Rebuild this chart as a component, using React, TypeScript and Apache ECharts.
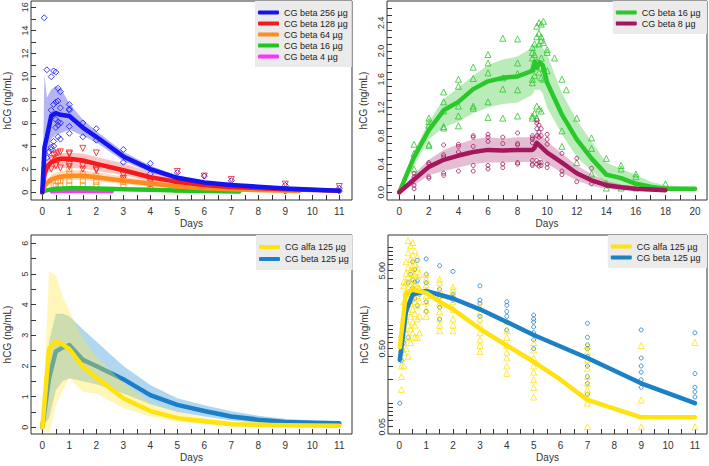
import { useEffect, useRef } from "react";
import * as echarts from "echarts";

// ---------- Panel 1 (top-left): CG beta dose groups ----------
const tA = [0, 0.08, 0.17, 0.33, 0.5, 0.67, 1, 1.5, 2, 3, 4, 5, 6, 7, 9, 11];
const b256Mid = [0, 3.9, 4.8, 6.6, 6.85, 6.7, 6.6, 5.6, 4.8, 3.1, 2.0, 1.25, 0.85, 0.62, 0.33, 0.13];
const b256Lo = [0, 0.5, 3.0, 4.6, 5.0, 5.1, 5.4, 4.9, 4.3, 2.7, 1.7, 1.05, 0.7, 0.5, 0.25, 0.08];
const b256Hi = [0, 10.2, 8.2, 8.9, 9.2, 9.0, 7.7, 6.3, 5.3, 3.5, 2.3, 1.45, 1.0, 0.75, 0.42, 0.2];
const b128Mid = [0, 1.5, 2.2, 2.6, 2.8, 2.9, 2.9, 2.75, 2.45, 1.9, 1.3, 0.9, 0.62, 0.45, 0.25, 0.14];
const b128Lo = [0, 1.0, 1.6, 1.9, 2.0, 2.1, 2.1, 2.05, 1.85, 1.5, 0.95, 0.7, 0.45, 0.32, 0.15, 0.08];
const b128Hi = [0, 2.0, 2.8, 3.2, 3.35, 3.4, 3.4, 3.35, 3.05, 2.5, 1.75, 1.15, 0.8, 0.6, 0.35, 0.2];
const tOr = [0, 0.08, 0.17, 0.33, 0.5, 0.67, 1, 1.5, 2, 3, 4, 5, 6, 7, 9.5];
const b64Mid = [0, 0.5, 0.8, 1.1, 1.25, 1.35, 1.42, 1.42, 1.3, 1.0, 0.75, 0.5, 0.35, 0.25, 0.1];
const b64Lo = [0, 0.3, 0.55, 0.8, 0.9, 1.0, 1.05, 1.05, 0.95, 0.72, 0.52, 0.35, 0.24, 0.16, 0.05];
const b64Hi = [0, 0.7, 1.1, 1.5, 1.7, 1.8, 1.9, 1.9, 1.75, 1.35, 1.0, 0.7, 0.48, 0.35, 0.16];
const tGr = [0, 0.08, 0.33, 0.5, 1, 1.5, 2, 3, 4, 5, 6, 7.3];
const b16Mid = [0, 0.12, 0.25, 0.3, 0.35, 0.35, 0.33, 0.27, 0.22, 0.16, 0.1, 0.07];
const b16Lo = [0, 0.06, 0.18, 0.22, 0.27, 0.27, 0.25, 0.2, 0.16, 0.11, 0.06, 0.04];
const b16Hi = [0, 0.18, 0.32, 0.38, 0.43, 0.43, 0.41, 0.34, 0.28, 0.21, 0.14, 0.1];
const tMg = [0.33, 0.5, 1, 1.5, 2, 2.6];
const b4Mid = [0.03, 0.05, 0.06, 0.06, 0.05, 0.04];

const pts256 = [
  [0.07, 15.1], [0.17, 10.6], [0.33, 10.0], [0.42, 10.5], [0.5, 10.4], [0.58, 9.0], [0.67, 8.7],
  [0.5, 7.8], [0.58, 7.9], [0.33, 7.1], [0.42, 7.6], [0.67, 7.3], [0.5, 6.3], [0.58, 6.1], [0.67, 6.0],
  [0.5, 5.6], [0.58, 5.8], [0.42, 4.4], [0.58, 4.8], [0.67, 4.6], [0.33, 3.7], [0.25, 3.5], [0.17, 3.0],
  [0.17, 2.2], [0.42, 4.0], [0.33, 3.9], [1, 7.6], [1, 7.2], [1, 7.1], [1, 5.7], [1, 5.1], [1.5, 6.0],
  [1.5, 4.8], [2, 5.5], [2, 4.5], [3, 3.7], [3, 2.6], [4, 2.5], [4, 1.6], [5, 1.7], [5, 0.9], [6, 1.4],
  [6, 0.6], [7, 1.0], [7, 0.4], [9, 0.6], [9, 0.1], [11, 0.35], [11, 0.1],
];
const pts128 = [
  [0.33, 2.9], [0.5, 3.3], [0.58, 3.4], [0.67, 3.5], [0.42, 3.2], [0.5, 2.3], [0.58, 2.7], [0.67, 2.1],
  [0.33, 2.0], [1, 3.4], [1, 3.3], [1, 2.4], [1, 2.2], [1.5, 3.8], [1.5, 2.3], [1.5, 2.0], [2, 3.4],
  [2, 2.0], [2, 1.9], [3, 1.5], [3, 1.2], [4, 0.9], [4, 0.7], [5, 1.8], [5, 0.5], [6, 1.4], [6, 0.3],
  [7, 1.1], [7, 0.25], [9, 0.7], [11, 0.5],
];
const pts64 = [
  [0.42, 0.6], [0.5, 0.55], [0.58, 0.95], [0.67, 0.6], [0.67, 1.0], [1, 2.0], [1, 1.6], [1, 1.0], [1, 0.6],
  [1.5, 1.6], [1.5, 1.0], [1.5, 0.6], [2, 1.4], [2, 0.9], [2, 0.6], [3, 1.2], [3, 0.9], [3, 0.5],
  [4, 0.7], [4, 0.3], [5, 0.5], [5, 0.2], [6, 0.35], [7, 0.2],
];

// ---------- Panel 2 (top-right): CG beta 16 / 8 ----------
const tG2 = [0, 1, 2, 3, 4, 5, 6, 7, 8, 9, 9.15, 9.3, 9.5, 9.7, 10, 11, 12, 13, 14, 15, 16, 17, 18, 20];
const g16Mid = [0, 0.5, 0.88, 1.16, 1.28, 1.46, 1.57, 1.62, 1.64, 1.72, 1.85, 1.76, 1.84, 1.8, 1.55, 1.1, 0.75, 0.48, 0.25, 0.2, 0.12, 0.08, 0.05, 0.05];
const g16Hi = [0, 0.58, 1.0, 1.32, 1.48, 1.65, 1.8, 1.88, 1.92, 2.05, 2.1, 2.1, 2.1, 2.05, 1.95, 1.4, 1.02, 0.72, 0.42, 0.33, 0.25, 0.15, 0.1, 0.07];
const g16Lo = [0, 0.38, 0.75, 0.92, 1.0, 1.12, 1.2, 1.25, 1.27, 1.38, 1.45, 1.45, 1.45, 1.4, 1.2, 0.82, 0.5, 0.3, 0.12, 0.1, 0.05, 0.03, 0.02, 0.03];
const tM2 = [0, 1, 2, 3, 4, 5, 6, 7, 8, 9, 9.15, 9.3, 9.5, 10, 11, 12, 13, 14, 15, 16, 17, 18];
const m8Mid = [0, 0.18, 0.36, 0.46, 0.52, 0.57, 0.6, 0.59, 0.6, 0.6, 0.63, 0.7, 0.66, 0.56, 0.42, 0.27, 0.17, 0.1, 0.07, 0.05, 0.04, 0.03];
const m8Hi = [0, 0.26, 0.46, 0.6, 0.68, 0.75, 0.78, 0.76, 0.78, 0.78, 0.8, 0.85, 0.82, 0.72, 0.55, 0.38, 0.26, 0.16, 0.11, 0.08, 0.06, 0.05];
const m8Lo = [0, 0.1, 0.24, 0.3, 0.35, 0.4, 0.42, 0.42, 0.43, 0.43, 0.45, 0.5, 0.48, 0.4, 0.28, 0.17, 0.09, 0.05, 0.03, 0.02, 0.01, 0.01];
const ptsG16 = [
  [1, 0.68], [1, 0.55], [1, 0.33], [2, 1.05], [2, 1.0], [2, 0.95], [2, 0.68], [2, 0.66], [3, 1.42], [3, 1.28],
  [3, 1.15], [3, 0.93], [3, 0.91], [4, 1.6], [4, 1.5], [4, 1.22], [4, 1.08], [4, 0.94], [5, 1.77], [5, 1.61],
  [5, 1.22], [5, 1.19], [6, 1.95], [6, 1.83], [6, 1.69], [6, 1.28], [6, 1.06], [7, 2.18], [7, 1.62], [7, 1.46],
  [7, 1.05], [8, 2.17], [8, 1.83], [8, 1.68], [8, 1.45], [8, 1.08], [9, 2.05], [9, 1.98], [9, 1.9], [9, 1.75],
  [9, 1.6], [9, 1.55], [9, 1.08], [9, 1.05], [9.15, 2.1], [9.15, 1.95], [9.15, 1.65], [9.15, 1.12], [9.3, 2.35],
  [9.3, 2.2], [9.3, 1.85], [9.3, 1.22], [9.3, 1.05], [9.45, 2.4], [9.45, 2.25], [9.45, 2.1], [9.45, 1.7],
  [9.45, 1.18], [9.6, 2.38], [9.6, 2.2], [9.6, 2.15], [9.6, 1.9], [9.6, 1.62], [9.6, 1.15], [9.75, 2.42],
  [9.75, 2.12], [9.75, 1.75], [9.75, 1.6], [10, 2.02], [10, 1.98], [10, 1.72], [10.5, 1.9], [11, 1.6],
  [11, 0.87], [11, 0.65], [11.3, 1.45], [12, 1.05], [12, 0.42], [13, 0.77], [13, 0.62], [13, 0.26],
  [14, 0.48], [14, 0.13], [14, 0.06], [15, 0.38], [15, 0.33], [15, 0.06], [16, 0.26], [16, 0.22], [16, 0.06],
  [18, 0.12],
];
const ptsM8 = [
  [1, 0.27], [1, 0.22], [1, 0.1], [1, 0.05], [2, 0.42], [2, 0.4], [2, 0.22], [2, 0.2], [3, 0.67], [3, 0.53],
  [3, 0.5], [3, 0.27], [3, 0.24], [4, 0.68], [4, 0.65], [4, 0.57], [4, 0.3], [5, 0.8], [5, 0.78], [5, 0.65],
  [5, 0.38], [5, 0.3], [6, 0.82], [6, 0.78], [6, 0.72], [6, 0.38], [6, 0.33], [7, 0.78], [7, 0.69], [7, 0.4],
  [7, 0.35], [8, 0.84], [8, 0.69], [8, 0.67], [8, 0.42], [8, 0.4], [9, 0.8], [9, 0.77], [9, 0.75], [9, 0.7],
  [9, 0.45], [9, 0.4], [9, 0.38], [9.3, 1.02], [9.3, 0.98], [9.3, 0.9], [9.3, 0.8], [9.3, 0.45], [9.3, 0.4],
  [9.45, 0.95], [9.45, 0.85], [9.45, 0.78], [9.45, 0.42], [9.45, 0.37], [9.6, 0.9], [9.6, 0.8], [9.6, 0.42],
  [9.6, 0.38], [10, 0.82], [10, 0.75], [10, 0.68], [10, 0.4], [10, 0.35], [11, 0.55], [11, 0.3], [11, 0.25],
  [12, 0.48], [12, 0.15], [13, 0.34], [13, 0.12], [14, 0.1],
];

// ---------- Panel 3 (bottom-left): alfa vs beta 125 µg, linear ----------
const tY3 = [0, 0.25, 0.5, 0.75, 1, 1.5, 2, 3, 4, 5, 6, 7, 9, 11];
const alfaMid = [0, 2.55, 2.8, 2.7, 2.55, 1.98, 1.62, 0.95, 0.53, 0.3, 0.2, 0.1, 0.07, 0.05];
const alfaHi = [0, 5.1, 4.95, 4.3, 3.8, 2.9, 2.3, 1.45, 0.8, 0.5, 0.32, 0.2, 0.12, 0.09];
const alfaLo = [0, -0.2, 0.7, 1.2, 1.6, 1.15, 1.1, 0.62, 0.35, 0.18, 0.1, 0.05, 0.02, 0.01];
const tB3 = [0, 0.25, 0.5, 0.75, 1, 1.5, 2, 3, 4, 5, 6, 7, 8, 9, 10, 11];
const betaMid = [0, 1.6, 2.47, 2.6, 2.68, 2.2, 2.0, 1.57, 1.05, 0.73, 0.53, 0.35, 0.25, 0.17, 0.15, 0.13];
const betaHi = [0, 2.8, 3.7, 3.7, 3.62, 3.2, 2.8, 2.0, 1.38, 0.95, 0.72, 0.52, 0.38, 0.28, 0.22, 0.2];
const betaLo = [0, 0.3, 1.2, 1.5, 1.6, 1.5, 1.4, 1.1, 0.75, 0.5, 0.35, 0.22, 0.15, 0.1, 0.05, -0.02];

// ---------- Panel 4 (bottom-right): alfa vs beta 125 µg, log scale ----------
const tY4 = [0.02, 0.25, 0.5, 1, 1.5, 2, 3, 4, 5, 6, 7, 9, 11];
const alfaMid4 = [0.52, 2.6, 2.85, 2.6, 2.0, 1.6, 0.9, 0.55, 0.34, 0.2, 0.11, 0.066, 0.066];
const tB4 = [0.02, 0.25, 0.5, 1, 2, 3, 4, 5, 7, 9, 11];
const betaMid4 = [0.36, 1.5, 2.5, 2.75, 2.2, 1.6, 1.1, 0.75, 0.38, 0.18, 0.1];
const ptsAlfa4 = [
  [0.08, 0.15], [0.08, 0.22], [0.08, 0.3], [0.08, 0.38], [0.08, 0.5], [0.08, 0.75],
  [0.17, 0.3], [0.17, 0.45], [0.17, 0.6], [0.17, 0.9], [0.17, 1.3], [0.17, 2.0], [0.17, 3.2], [0.17, 3.6],
  [0.25, 0.5], [0.25, 0.8], [0.25, 1.2], [0.25, 1.8], [0.25, 2.6], [0.25, 3.5], [0.25, 4.6], [0.25, 6.5],
  [0.33, 0.4], [0.33, 0.7], [0.33, 1.0], [0.33, 1.5], [0.33, 2.2], [0.33, 3.0], [0.33, 4.2], [0.33, 5.5], [0.33, 8.5], [0.33, 12.2],
  [0.42, 0.6], [0.42, 0.9], [0.42, 1.3], [0.42, 1.9], [0.42, 2.7], [0.42, 3.6], [0.42, 5.0], [0.42, 7.0], [0.42, 10.5],
  [0.5, 0.8], [0.5, 1.1], [0.5, 1.6], [0.5, 2.2], [0.5, 2.9], [0.5, 3.8], [0.5, 4.6], [0.5, 5.8], [0.5, 8.0], [0.5, 11.5],
  [0.58, 0.7], [0.58, 1.0], [0.58, 1.4], [0.58, 2.0], [0.58, 2.6], [0.58, 3.4], [0.58, 4.4], [0.58, 6.0], [0.58, 9.0],
  [0.67, 0.7], [0.67, 1.2], [0.67, 1.8], [0.67, 2.4], [0.67, 3.2], [0.67, 4.2], [0.67, 5.5], [0.67, 7.5],
  [0.75, 0.8], [0.75, 1.3], [0.75, 2.0], [0.75, 3.0], [0.75, 4.5],
  [1, 1.3], [1, 1.6], [1, 2.0], [1, 2.4], [1, 2.8], [1, 3.3], [1, 3.9], [1, 4.5],
  [1.5, 0.85], [1.5, 1.0], [1.5, 1.2], [1.5, 1.5], [1.5, 1.9], [1.5, 2.4], [1.5, 2.9], [1.5, 3.5], [1.5, 3.9],
  [2, 0.85], [2, 1.0], [2, 1.2], [2, 1.6], [2, 2.0], [2, 2.4], [2, 2.8], [2, 3.1],
  [3, 0.46], [3, 0.55], [3, 0.65], [3, 0.8], [3, 1.0], [3, 1.2], [3, 1.45], [3, 1.7],
  [4, 0.24], [4, 0.3], [4, 0.38], [4, 0.45], [4, 0.55], [4, 0.7], [4, 0.85], [4, 1.1],
  [5, 0.12], [5, 0.16], [5, 0.2], [5, 0.25], [5, 0.3], [5, 0.38], [5, 0.48], [5, 0.6],
  [7, 0.05], [7, 0.1], [7, 0.12], [7, 0.15], [7, 0.18], [7, 0.22], [7, 0.28], [7, 0.36], [7, 0.45], [7, 0.55],
  [9, 0.05], [9, 0.11], [9, 0.55], [11, 0.05], [11, 0.6],
];
const ptsBeta4 = [
  [0.02, 0.1], [0.08, 0.35], [0.08, 0.45], [0.17, 0.6], [0.17, 1.0], [0.25, 1.5], [0.25, 2.5], [0.33, 0.7],
  [0.33, 3.5], [0.42, 2.0], [0.42, 4.5], [0.5, 3.0], [0.5, 3.8], [0.5, 6.5], [0.58, 2.2], [0.58, 3.6],
  [0.58, 5.2], [0.67, 1.8], [0.67, 3.7], [0.67, 6.8], [0.75, 2.5],
  [1, 1.5], [1, 2.0], [1, 2.7], [1, 3.5], [1, 4.5], [1, 7.1],
  [1.5, 1.2], [1.5, 1.7], [1.5, 2.3], [1.5, 2.9], [1.5, 5.8],
  [2, 2.1], [2, 2.3], [2, 2.5], [2, 4.9],
  [3, 1.3], [3, 1.6], [3, 1.9], [3, 2.1], [3, 3.2],
  [4, 0.87], [4, 1.1], [4, 1.3], [4, 1.5], [4, 1.8], [4, 2.0],
  [5, 0.5], [5, 0.65], [5, 0.8], [5, 0.95], [5, 1.1], [5, 1.2], [5, 1.35],
  [7, 0.13], [7, 0.18], [7, 0.22], [7, 0.3], [7, 0.4], [7, 0.5], [7, 0.56], [7, 0.7], [7, 1.06],
  [9, 0.16], [9, 0.2], [9, 0.25], [9, 0.3], [9, 0.38], [9, 0.87],
  [11, 0.12], [11, 0.14], [11, 0.16], [11, 0.24], [11, 0.8],
];

// tick/label values
const xTicksHalf = Array.from({ length: 23 }, (_, i) => i * 0.5);
const xLabels11 = Array.from({ length: 12 }, (_, i) => i);
const y1Ticks = Array.from({ length: 17 }, (_, i) => i);
const y1Labels = [0, 2, 4, 6, 8, 10, 12, 14, 16];
const x2Ticks = Array.from({ length: 21 }, (_, i) => i);
const x2Labels = [0, 2, 4, 6, 8, 10, 12, 14, 16, 18, 20];
const y2Ticks = Array.from({ length: 27 }, (_, i) => i / 10);
const y2Labels = [0, 0.4, 0.8, 1.2, 1.6, 2.0, 2.4];
const y3Ticks = Array.from({ length: 13 }, (_, i) => i / 2);
const y3Labels = [0, 1, 2, 3, 4, 5, 6];
const y4TickVals = [0.05, 0.06, 0.07, 0.08, 0.09, 0.1, 0.2, 0.3, 0.4, 0.5, 0.6, 0.7, 0.8, 0.9, 1, 2, 3, 4, 5, 6, 7, 8, 9, 10];
const y4LabelVals = [0.05, 0.5, 5];

const FONT = "Liberation Sans, Arial, Helvetica, sans-serif";
const AX = "#333";

const C = {
  blue: "#1414f0", blueBand: "rgba(60,60,225,0.38)",
  red: "#f41a1a", redBand: "rgba(240,70,70,0.32)",
  orange: "#ff8c1e", orangeBand: "rgba(255,150,60,0.35)",
  green: "#22c422", greenBand: "rgba(60,200,60,0.35)",
  magenta: "#ff33ff",
  g2: "#2ac82a", g2Band: "rgba(70,205,70,0.38)",
  maroon: "#a3175c", maroonBand: "rgba(165,35,105,0.3)",
  yellow: "#ffe20e", yellowBand: "rgba(255,232,60,0.36)",
  sky: "#1b80c6", skyBand: "rgba(50,150,215,0.38)",
};

const lg = (v: number) => Math.log10(v);
const id = (v: number) => v;

function band(ax: number, t: number[], lo: number[], hi: number[], color: string, z: number, f = id) {
  return {
    type: "custom",
    xAxisIndex: ax,
    yAxisIndex: ax,
    silent: true,
    clip: true,
    z,
    data: [[t[0], f(Math.max(lo[0], 1e-6))]],
    encode: { x: 0, y: 1 },
    renderItem: (_p: any, api: any) => {
      const pts: number[][] = [];
      for (let i = 0; i < t.length; i++) pts.push(api.coord([t[i], f(hi[i])]));
      for (let i = t.length - 1; i >= 0; i--) pts.push(api.coord([t[i], f(lo[i])]));
      return { type: "polygon", shape: { points: pts }, style: { fill: color } };
    },
  };
}

function line(ax: number, name: string, t: number[], v: number[], color: string, z: number, w = 4.5, f = id) {
  return {
    type: "line",
    name,
    xAxisIndex: ax,
    yAxisIndex: ax,
    data: t.map((x, i) => [x, f(v[i])]),
    symbol: "none",
    showSymbol: false,
    silent: true,
    z,
    lineStyle: { color, width: w, cap: "round", join: "round" },
    itemStyle: { color },
  };
}

function pts(ax: number, data: number[][], color: string, symbol: string, size: number, z: number, rotate = 0, f = id) {
  return {
    type: "scatter",
    xAxisIndex: ax,
    yAxisIndex: ax,
    data: data.map((d) => [d[0], f(d[1])]),
    symbol,
    symbolSize: size,
    symbolRotate: rotate,
    silent: true,
    z,
    itemStyle: { color: "rgba(0,0,0,0)", borderColor: color, borderWidth: 1 },
  };
}

function xAxis(grid: number, min: number, max: number, ticks: number[], labels: number[]) {
  return {
    type: "value",
    gridIndex: grid,
    position: "bottom",
    min,
    max,
    name: "Days",
    nameLocation: "middle",
    nameGap: 18,
    nameTextStyle: { fontSize: 10, color: AX, fontFamily: FONT },
    axisLine: { show: false, onZero: false },
    splitLine: { show: false },
    axisTick: { show: true, inside: true, length: 5, customValues: ticks, lineStyle: { color: AX, width: 1 } },
    axisLabel: { customValues: labels, fontSize: 10, color: AX, fontFamily: FONT, margin: 6, formatter: (v: number) => String(v) },
  };
}

function yAxis(grid: number, min: number, max: number, ticks: number[], labels: number[], fmt: (v: number) => string) {
  return {
    type: "value",
    gridIndex: grid,
    position: "left",
    min,
    max,
    name: "hCG (ng/mL)",
    nameLocation: "middle",
    nameGap: 19,
    nameTextStyle: { fontSize: 10, color: AX, fontFamily: FONT },
    axisLine: { show: false, onZero: false },
    splitLine: { show: false },
    axisTick: { show: true, inside: true, length: 5, customValues: ticks, lineStyle: { color: AX, width: 1 } },
    axisLabel: { customValues: labels, rotate: 90, fontSize: 9, color: AX, fontFamily: FONT, margin: 2, formatter: fmt },
  };
}

function legend(names: string[], colors: string[], pos: any, lineH: number) {
  return {
    ...pos,
    orient: "vertical",
    selectedMode: false,
    backgroundColor: "#ebebeb",
    borderRadius: 0,
    padding: [6, 4, 5, 3],
    itemGap: 0,
    itemWidth: 21,
    itemHeight: 4,
    icon: "roundRect",
    textStyle: { fontSize: 9, color: "#222", fontFamily: FONT, lineHeight: lineH },
    data: names.map((n, i) => ({ name: n, itemStyle: { color: colors[i] } })),
  };
}

export default function App() {
  const ref = useRef<HTMLDivElement>(null);
  useEffect(() => {
    document.body.style.margin = "0";
    if (!ref.current) return;
    const chart = echarts.init(ref.current, undefined, { renderer: "svg" });
    const option: any = {
      animation: false,
      backgroundColor: "#ffffff",
      grid: [
        { left: 31, top: 1, width: 321, height: 199, show: true, borderColor: AX, borderWidth: 1, outerBoundsMode: "none" },
        { left: 387, top: 1, width: 320, height: 199, show: true, borderColor: AX, borderWidth: 1, outerBoundsMode: "none" },
        { left: 31, top: 235, width: 321, height: 199, show: true, borderColor: AX, borderWidth: 1, outerBoundsMode: "none" },
        { left: 388, top: 235, width: 319, height: 199, show: true, borderColor: AX, borderWidth: 1, outerBoundsMode: "none" },
      ],
      xAxis: [
        xAxis(0, -0.419, 11.47, xTicksHalf, xLabels11),
        xAxis(1, -0.83, 20.81, x2Ticks, x2Labels),
        xAxis(2, -0.419, 11.47, xTicksHalf, xLabels11),
        xAxis(3, -0.42, 11.45, xTicksHalf, xLabels11),
      ],
      yAxis: [
        yAxis(0, -0.67, 16.55, y1Ticks, y1Labels, (v) => String(v)),
        yAxis(1, -0.109, 2.707, y2Ticks, y2Labels, (v) => v.toFixed(1)),
        yAxis(2, -0.218, 6.27, y3Ticks, y3Labels, (v) => String(v)),
        yAxis(3, -1.395, 1.157, y4TickVals.map(lg), y4LabelVals.map(lg), (v) => Math.pow(10, v).toFixed(2)),
      ],
      legend: [
        legend(["CG beta 256 µg", "CG beta 128 µg", "CG beta 64 µg", "CG beta 16 µg", "CG beta 4 µg"],
          [C.blue, C.red, C.orange, C.green, C.magenta], { left: 255, top: 1 }, 11),
        legend(["CG beta 16 µg ", "CG beta 8 µg"], [C.g2, C.maroon], { right: 2, top: 1 }, 11),
        legend(["CG alfa 125 µg", "CG beta 125 µg"], [C.yellow, C.sky], { left: 256, top: 235 }, 12),
        legend(["CG alfa 125 µg ", "CG beta 125 µg "], [C.yellow, C.sky], { right: 2, top: 235 }, 11),
      ],
      series: [
        // panel 1
        band(0, tMg, b4Mid, b4Mid, C.magenta, 1),
        band(0, tGr, b16Lo, b16Hi, C.greenBand, 1),
        band(0, tOr, b64Lo, b64Hi, C.orangeBand, 1),
        band(0, tA, b128Lo, b128Hi, C.redBand, 1),
        band(0, tA, b256Lo, b256Hi, C.blueBand, 1),
        pts(0, pts64, C.orange, "rect", 5, 2),
        pts(0, pts128, C.red, "triangle", 6, 2, 180),
        pts(0, pts256, C.blue, "diamond", 6, 2),
        line(0, "CG beta 4 µg", tMg, b4Mid, C.magenta, 3, 3),
        line(0, "CG beta 16 µg", tGr, b16Mid, C.green, 3),
        line(0, "CG beta 64 µg", tOr, b64Mid, C.orange, 3),
        line(0, "CG beta 128 µg", tA, b128Mid, C.red, 3),
        line(0, "CG beta 256 µg", tA, b256Mid, C.blue, 3),
        // panel 2
        band(1, tG2, g16Lo, g16Hi, C.g2Band, 1),
        band(1, tM2, m8Lo, m8Hi, C.maroonBand, 1),
        pts(1, ptsG16, C.g2, "triangle", 6, 2),
        pts(1, ptsM8, C.maroon, "circle", 4, 2),
        line(1, "CG beta 16 µg ", tG2, g16Mid, C.g2, 3),
        line(1, "CG beta 8 µg", tM2, m8Mid, C.maroon, 3),
        // panel 3
        band(2, tB3, betaLo, betaHi, C.skyBand, 1),
        line(2, "CG beta 125 µg", tB3, betaMid, C.sky, 2),
        band(2, tY3, alfaLo, alfaHi, C.yellowBand, 3),
        line(2, "CG alfa 125 µg", tY3, alfaMid, C.yellow, 4),
        // panel 4
        pts(3, ptsBeta4, C.sky, "circle", 4, 2, 0, lg),
        pts(3, ptsAlfa4, C.yellow, "triangle", 6, 2, 0, lg),
        line(3, "CG beta 125 µg ", tB4, betaMid4, C.sky, 3, 4.5, lg),
        line(3, "CG alfa 125 µg ", tY4, alfaMid4, C.yellow, 3, 4.5, lg),
      ],
    };
    chart.setOption(option);
    return () => chart.dispose();
  }, []);
  return <div ref={ref} style={{ width: 709, height: 466 }} />;
}
